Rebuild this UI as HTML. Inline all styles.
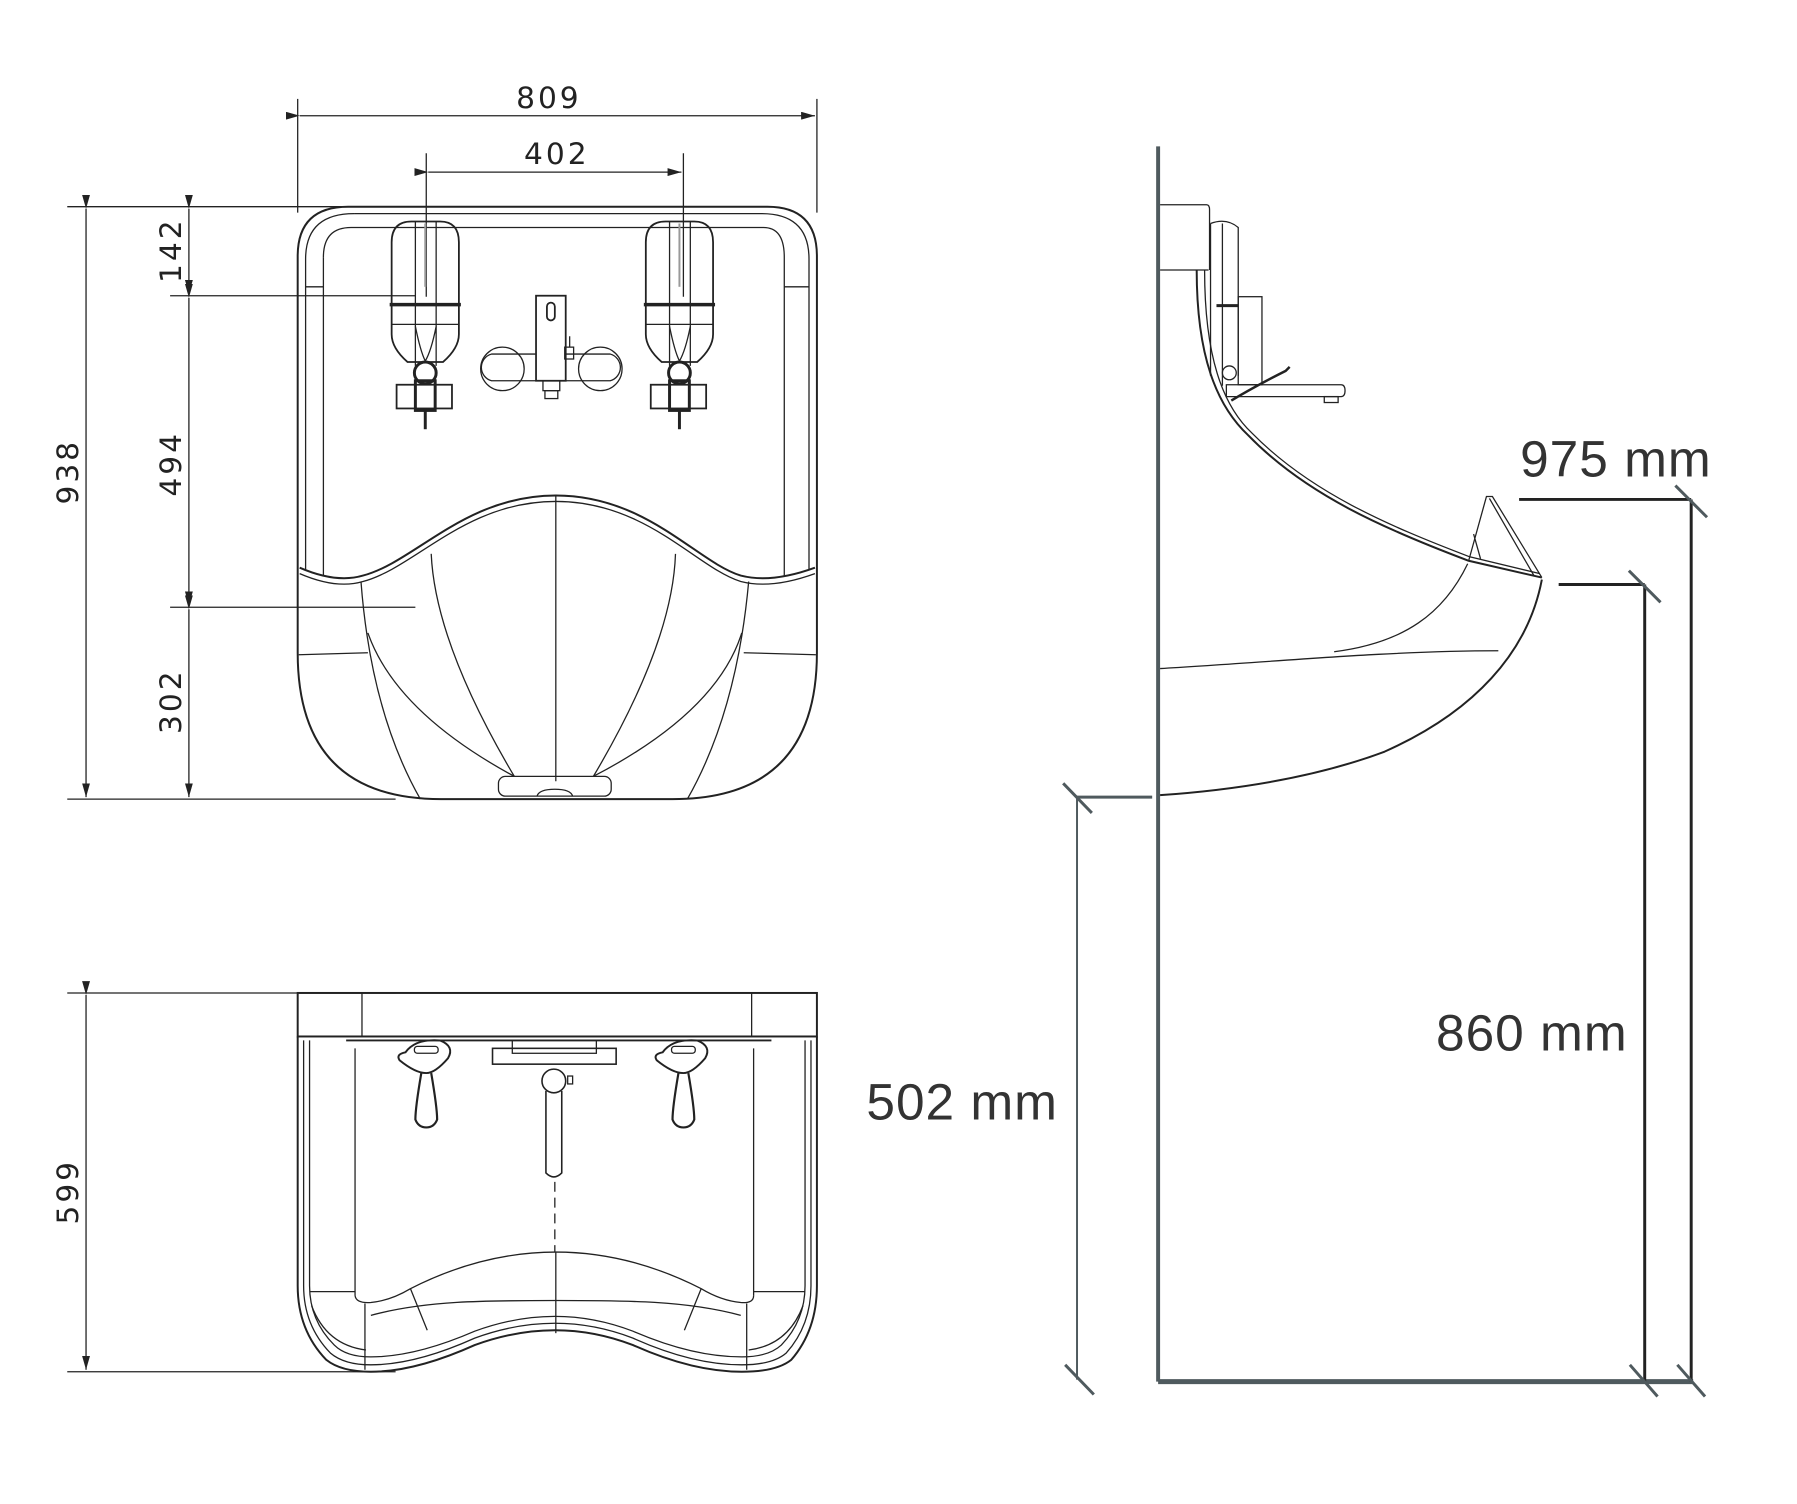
<!DOCTYPE html>
<html><head><meta charset="utf-8"><style>
html,body{margin:0;padding:0;background:#fff;}
svg{display:block;}
.t{font-family:"DejaVu Sans","Liberation Sans",sans-serif;font-size:30px;fill:#222;letter-spacing:3px;}
.m{font-family:"Liberation Sans",sans-serif;font-size:52px;fill:#333;letter-spacing:1px;}
</style></head><body>
<svg width="1797" height="1504" viewBox="0 0 1797 1504" xmlns="http://www.w3.org/2000/svg">
<defs>
<marker id="ar" markerWidth="14" markerHeight="8" refX="14" refY="4" orient="auto" markerUnits="userSpaceOnUse"><path d="M0,0 L14,4 L0,8 Z" fill="#222"/></marker>
</defs>
<g transform="scale(0.989)">
<g stroke="#222" fill="none" stroke-width="1.3">
<!-- ===== FRONT VIEW dimensions ===== -->
<line x1="301" y1="100" x2="301" y2="215"/>
<line x1="826" y1="100" x2="826" y2="215"/>
<line x1="303" y1="117" x2="824" y2="117" marker-start="url(#ar)" marker-end="url(#ar)"/>
<line x1="431" y1="155" x2="431" y2="300"/>
<line x1="691" y1="155" x2="691" y2="300"/>
<line x1="433" y1="174" x2="689" y2="174" marker-start="url(#ar)" marker-end="url(#ar)"/>
<line x1="68" y1="209" x2="420" y2="209"/>
<line x1="68" y1="808" x2="400" y2="808"/>
<line x1="87" y1="211" x2="87" y2="806" marker-start="url(#ar)" marker-end="url(#ar)"/>
<line x1="172" y1="299" x2="420" y2="299"/>
<line x1="172" y1="614" x2="420" y2="614"/>
<line x1="191" y1="211" x2="191" y2="297" marker-start="url(#ar)" marker-end="url(#ar)"/>
<line x1="191" y1="301" x2="191" y2="612" marker-start="url(#ar)" marker-end="url(#ar)"/>
<line x1="191" y1="616" x2="191" y2="806" marker-start="url(#ar)" marker-end="url(#ar)"/>

<!-- front body -->
<path d="M352,209 L776,209 Q826,209 826,259 L826,660 Q826,808 680,808 L446,808 Q301,808 301,660 L301,259 Q301,209 352,209 Z" stroke-width="2"/>
<path d="M358,216 L770,216 Q818,216 818,262 L818,576" />
<path d="M358,216 Q309,216 309,262 L309,576" />
<path d="M327,260 Q327,230 355,230 L772,230 Q793,230 793,260 L793,582"/>
<line x1="327" y1="260" x2="327" y2="582"/>
<line x1="309" y1="290" x2="327" y2="290"/><line x1="793" y1="290" x2="818" y2="290"/>
<path d="M303,574 Q340,590 367,582 C420,568 470,501 562,501 C654,501 704,568 749,582 Q780,590 824,574" stroke-width="2"/>
<path d="M303,580 Q340,596 367,588 C420,574 470,507 562,507 C654,507 704,574 749,588 Q780,596 824,580"/>
<line x1="562" y1="501" x2="562" y2="790"/>
<path d="M436,560 Q440,650 520,785"/>
<path d="M683,560 Q680,650 600,785"/>
<path d="M365,588 Q375,720 425,808"/>
<path d="M757,588 Q745,720 695,808"/>
<path d="M372,640 Q400,720 520,785 M750,640 Q725,720 600,785"/>
<line x1="302" y1="662" x2="372" y2="660"/>
<line x1="752" y1="660" x2="825" y2="662"/>
<rect x="504" y="785" width="114" height="20" rx="7"/>
<path d="M543,805 Q545,798 561,798 Q577,798 579,805"/>

<!-- bottles -->
<g id="bot">
<path d="M396,338 L396,245 Q396,224 416,224 L445,224 Q464,224 464,245 L464,338 Q464,352 448,366 L412,366 Q396,352 396,338 Z" stroke-width="1.8"/>
<line x1="394" y1="308" x2="466" y2="308" stroke-width="3.5"/>
<line x1="396" y1="328" x2="464" y2="328"/>
<line x1="420" y1="224" x2="420" y2="370"/><line x1="441" y1="224" x2="441" y2="370"/>
<path d="M420,330 Q425,355 430,365 Q436,355 441,330"/>
<circle cx="430" cy="377" r="11" stroke-width="3"/>
<rect x="401" y="389" width="56" height="24" stroke-width="1.8"/>
<rect x="420" y="385" width="20" height="30" stroke-width="3"/>
<line x1="430" y1="413" x2="430" y2="434" stroke-width="3"/>
<line x1="430" y1="226" x2="430" y2="290" stroke="#999" stroke-width="2"/>
</g>
<use href="#bot" transform="translate(257,0)"/>
<path d="M497,358 L617,358 A14,14 0 0 1 617,385 L497,385 A14,14 0 0 1 497,358 Z"/>
<circle cx="508" cy="373" r="22"/><circle cx="607" cy="373" r="22"/>
<rect x="542" y="299" width="30" height="86" fill="#fff" stroke-width="1.8"/>
<rect x="553" y="306" width="8" height="18" rx="4" stroke-width="1.8"/>
<rect x="571" y="351" width="9" height="12"/><line x1="576" y1="351" x2="576" y2="340"/>
<rect x="549" y="385" width="17" height="10"/><rect x="551" y="395" width="13" height="8"/>

<!-- ===== BOTTOM VIEW ===== -->
<line x1="68" y1="1004" x2="400" y2="1004"/>
<line x1="68" y1="1387" x2="400" y2="1387"/>
<line x1="87" y1="1006" x2="87" y2="1385" marker-start="url(#ar)" marker-end="url(#ar)"/>
<rect x="301" y="1004" width="525" height="44" stroke-width="2"/>
<line x1="366" y1="1004" x2="366" y2="1048"/><line x1="760" y1="1004" x2="760" y2="1048"/>
<path d="M301,1048 L301,1300 Q301,1345 330,1375 Q345,1387 375,1387 Q420,1387 480,1360 Q562,1330 640,1360 Q700,1387 750,1387 Q785,1387 800,1375 Q826,1345 826,1300 L826,1048" stroke-width="2"/>
<path d="M307,1052 L307,1300 Q307,1340 334,1368 Q348,1380 375,1380 Q420,1380 480,1353 Q562,1323 640,1353 Q700,1380 750,1380 Q781,1380 795,1368 Q820,1340 820,1300 L820,1052"/>
<path d="M313,1052 L313,1300 Q313,1335 338,1360 Q350,1372 375,1372 Q420,1372 480,1346 Q562,1316 640,1346 Q700,1372 750,1372 Q777,1372 790,1360 Q814,1335 814,1300 L814,1052"/>
<line x1="359" y1="1060" x2="359" y2="1310"/><line x1="762" y1="1060" x2="762" y2="1310"/>
<path d="M359,1310 Q360,1318 375,1317 Q395,1315 415,1303 C470,1275 520,1266 562,1266 C604,1266 654,1275 709,1303 Q729,1315 749,1317 Q762,1318 762,1310"/>
<path d="M375,1330 C430,1315 490,1315 562,1315 C634,1315 694,1315 749,1330"/>
<line x1="562" y1="1266" x2="562" y2="1348"/>
<line x1="313" y1="1306" x2="359" y2="1306"/><line x1="762" y1="1306" x2="814" y2="1306"/>
<path d="M415,1303 L432,1345 M709,1303 L692,1345"/>
<path d="M315,1320 Q330,1360 370,1365 M812,1320 Q797,1360 757,1365"/>
<line x1="369" y1="1318" x2="369" y2="1385"/><line x1="755" y1="1318" x2="755" y2="1385"/>
<line x1="350" y1="1052" x2="780" y2="1052" stroke-width="2"/>
<g id="tap">
<path d="M410,1064 Q420,1050 445,1052 Q460,1058 453,1070 Q440,1085 431,1085 Q420,1085 404,1072 Q400,1066 410,1064 Z" stroke-width="2"/>
<rect x="419" y="1058" width="24" height="7" rx="3"/>
<path d="M426,1085 Q420,1120 420,1132 Q423,1140 431,1140 Q439,1140 442,1132 Q442,1120 436,1085" stroke-width="2.2"/>
</g>
<use href="#tap" transform="translate(260,0)"/>
<rect x="498" y="1060" width="125" height="16" stroke-width="1.6"/>
<rect x="518" y="1052" width="85" height="13"/>
<circle cx="560" cy="1093" r="12" stroke-width="1.6"/>
<rect x="574" y="1088" width="5" height="8"/>
<path d="M552,1103 L552,1186 Q560,1194 568,1186 L568,1103" stroke-width="1.6"/>
<line x1="561" y1="1195" x2="561" y2="1266" stroke-dasharray="10,6"/>

<!-- ===== SIDE VIEW ===== -->
<line x1="1171" y1="148" x2="1171" y2="1397" stroke="#4f5a5e" stroke-width="4"/>
<line x1="1171" y1="1397" x2="1712" y2="1397" stroke="#4f5a5e" stroke-width="5"/>
<path d="M1173,207 L1220,207 Q1223,207 1223,212 L1223,273"/>
<line x1="1173" y1="273" x2="1222" y2="273"/>
<path d="M1224,226 Q1240,220 1252,230 L1252,380 M1224,226 L1224,380"/>
<line x1="1236" y1="226" x2="1236" y2="390"/>
<rect x="1252" y="300" width="24" height="89"/>
<line x1="1230" y1="309" x2="1252" y2="309" stroke-width="3"/>
<path d="M1240,389 L1356,389 Q1360,389 1360,395 Q1360,401 1356,401 L1240,401 Z"/>
<rect x="1339" y="401" width="14" height="6"/>
<path d="M1245,405 Q1270,390 1300,375 L1304,371" stroke-width="2.5"/>
<circle cx="1243" cy="377" r="7"/>
<path d="M1210,273 C1210,360 1230,410 1262,440 C1320,500 1400,535 1485,567 L1559,584" stroke-width="2"/>
<path d="M1218,273 C1218,360 1236,410 1266,438 C1324,497 1402,531 1486,563 L1557,580"/>
<path d="M1485,567 L1503,502 L1509,502 L1559,584"/>
<path d="M1506,504 L1551,582"/>
<path d="M1559,586 C1545,660 1490,720 1400,760 C1320,790 1230,800 1173,804" stroke-width="2"/>
<path d="M1484,570 C1460,620 1420,650 1349,659"/>
<path d="M1173,676 C1280,670 1400,658 1515,658"/>
<line x1="1490" y1="540" x2="1497" y2="565"/>
<line x1="1536" y1="505" x2="1710" y2="505" stroke-width="3"/>
<line x1="1710" y1="505" x2="1710" y2="1397" stroke-width="3"/>
<line x1="1576" y1="591" x2="1663" y2="591" stroke-width="3"/>
<line x1="1663" y1="591" x2="1663" y2="1397" stroke-width="3"/>
<line x1="1089" y1="806" x2="1165" y2="806" stroke="#4f5a5e" stroke-width="3"/>
<line x1="1089" y1="806" x2="1089" y2="1395" stroke="#4f5a5e" stroke-width="2"/>
<g stroke="#4f5a5e" stroke-width="3">
<line x1="1694" y1="491" x2="1726" y2="523"/>
<line x1="1647" y1="577" x2="1679" y2="609"/>
<line x1="1075" y1="792" x2="1104" y2="822"/>
<line x1="1077" y1="1380" x2="1106" y2="1410"/>
<line x1="1648" y1="1380" x2="1676" y2="1412"/>
<line x1="1696" y1="1380" x2="1724" y2="1412"/>
</g>
</g>
<text class="t" x="555" y="109" text-anchor="middle">809</text>
<text class="t" x="563" y="166" text-anchor="middle">402</text>
<text class="t" transform="translate(79,477) rotate(-90)" text-anchor="middle">938</text>
<text class="t" transform="translate(183,253) rotate(-90)" text-anchor="middle" letter-spacing="6">142</text>
<text class="t" transform="translate(183,469) rotate(-90)" text-anchor="middle">494</text>
<text class="t" transform="translate(183,709) rotate(-90)" text-anchor="middle">302</text>
<text class="t" transform="translate(79,1205) rotate(-90)" text-anchor="middle">599</text>
<text class="m" x="1537" y="482">975 mm</text>
<text class="m" x="1452" y="1062">860 mm</text>
<text class="m" x="876" y="1132">502 mm</text>
</g>
</svg>
</body></html>
